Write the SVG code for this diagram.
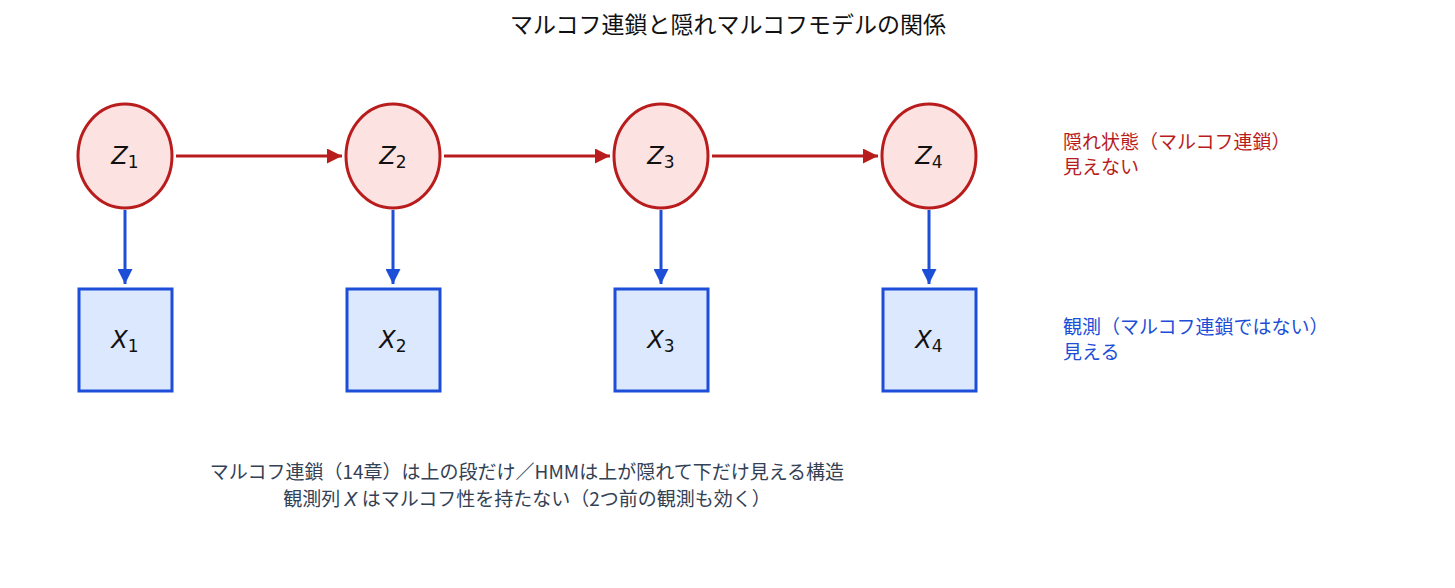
<svg xmlns="http://www.w3.org/2000/svg" width="1455" height="588" viewBox="0 0 1455 588">
<style>
text{font-family:"Noto Sans CJK JP","DejaVu Sans",sans-serif}
.z{fill:#fde2e2;stroke:#b91c1c;stroke-width:3}
.x{fill:#dbe8fd;stroke:#1d4ed8;stroke-width:3}
.m{font-family:"DejaVu Sans",sans-serif;font-style:italic;font-size:24px;text-anchor:middle;fill:#111}
.s{font-style:normal;font-size:17px}
.rc{stroke:#b91c1c;stroke-width:3;fill:none}
.bc{stroke:#1d4ed8;stroke-width:3;fill:none}
</style>
<defs>
<marker id="ar" viewBox="0 0 10 10" refX="10" refY="5" markerWidth="5" markerHeight="5" orient="auto" markerUnits="strokeWidth"><path d="M0,0L10,5L0,10z" fill="#b91c1c"/></marker>
<marker id="ab" viewBox="0 0 10 10" refX="10" refY="5" markerWidth="5" markerHeight="5" orient="auto" markerUnits="strokeWidth"><path d="M0,0L10,5L0,10z" fill="#1d4ed8"/></marker>
</defs>
<rect width="1455" height="588" fill="#fff"/>
<text x="728" y="33" font-size="23" text-anchor="middle" fill="#111">マルコフ連鎖と隠れマルコフモデルの関係</text>
<g id="connectors">
<line class="rc" x1="176" y1="156" x2="342" y2="156" marker-end="url(#ar)"/>
<line class="rc" x1="444" y1="156" x2="610" y2="156" marker-end="url(#ar)"/>
<line class="rc" x1="712" y1="156" x2="878" y2="156" marker-end="url(#ar)"/>
<line class="bc" x1="125" y1="210" x2="125" y2="284" marker-end="url(#ab)"/>
<line class="bc" x1="393" y1="210" x2="393" y2="284" marker-end="url(#ab)"/>
<line class="bc" x1="661" y1="210" x2="661" y2="284" marker-end="url(#ab)"/>
<line class="bc" x1="929" y1="210" x2="929" y2="284" marker-end="url(#ab)"/>
</g>
<g id="z1"><ellipse class="z" cx="125" cy="156" rx="47" ry="52"/><text class="m" x="125" y="164">Z<tspan class="s" dy="4">1</tspan></text></g>
<g id="z2"><ellipse class="z" cx="393" cy="156" rx="47" ry="52"/><text class="m" x="393" y="164">Z<tspan class="s" dy="4">2</tspan></text></g>
<g id="z3"><ellipse class="z" cx="661" cy="156" rx="47" ry="52"/><text class="m" x="661" y="164">Z<tspan class="s" dy="4">3</tspan></text></g>
<g id="z4"><ellipse class="z" cx="929" cy="156" rx="47" ry="52"/><text class="m" x="929" y="164">Z<tspan class="s" dy="4">4</tspan></text></g>
<g id="x1"><rect class="x" x="79" y="289" width="93" height="102"/><text class="m" x="125" y="348">X<tspan class="s" dy="4">1</tspan></text></g>
<g id="x2"><rect class="x" x="347" y="289" width="93" height="102"/><text class="m" x="393" y="348">X<tspan class="s" dy="4">2</tspan></text></g>
<g id="x3"><rect class="x" x="615" y="289" width="93" height="102"/><text class="m" x="661" y="348">X<tspan class="s" dy="4">3</tspan></text></g>
<g id="x4"><rect class="x" x="883" y="289" width="93" height="102"/><text class="m" x="929" y="348">X<tspan class="s" dy="4">4</tspan></text></g>
<g id="legend-hidden" font-size="19" fill="#b91c1c"><text x="1063" y="149" fill="#b91c1c">隠れ状態（マルコフ連鎖）</text><text x="1063" y="174" fill="#b91c1c">見えない</text></g>
<g id="legend-obs"><text x="1063" y="334" font-size="19" fill="#1d4ed8">観測（マルコフ連鎖ではない）</text><text x="1063" y="359" font-size="19" fill="#1d4ed8">見える</text></g>
<g id="caption" font-size="19" fill="#334155" text-anchor="middle">
<text x="527" y="479">マルコフ連鎖（14章）は上の段だけ／HMMは上が隠れて下だけ見える構造</text>
<text x="527" y="506">観測列 <tspan font-family="DejaVu Sans" font-style="italic">X</tspan> はマルコフ性を持たない（2つ前の観測も効く）</text>
</g>
</svg>
